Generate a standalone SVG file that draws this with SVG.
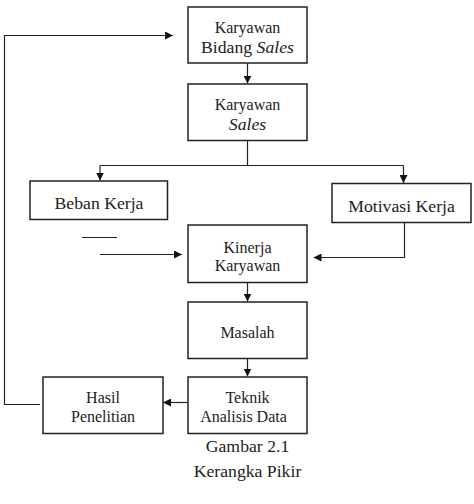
<svg xmlns="http://www.w3.org/2000/svg" width="474" height="504" viewBox="0 0 474 504">
<style>
.box{fill:#fff;stroke:#222;stroke-width:1.5}
.ln{fill:none;stroke:#222;stroke-width:1.2}
text{font-family:'Liberation Serif',serif;font-size:16px;fill:#222;text-anchor:middle}
.tb{font-size:17.7px}
.i{font-style:italic}
</style>
<defs>
<marker id="ah" viewBox="0 0 10 10" refX="10" refY="5" markerWidth="8" markerHeight="8" markerUnits="userSpaceOnUse" orient="auto">
<path d="M0,0 L10,5 L0,10 z" fill="#111"/>
</marker>
</defs>
<rect width="474" height="504" fill="#fff"/>
<g id="connectors">
<path class="ln" d="M247.5,63.5 V83.5" marker-end="url(#ah)"/>
<path class="ln" d="M247.5,140.5 V165.5"/>
<path class="ln" d="M100,165.5 H403.5"/>
<path class="ln" d="M100,165.5 V180.5" marker-end="url(#ah)"/>
<path class="ln" d="M403.5,165.5 V183" marker-end="url(#ah)"/>
<path class="ln" d="M82,237.5 H117"/>
<path class="ln" d="M100,254.5 H182" marker-end="url(#ah)"/>
<path class="ln" d="M404.5,222.5 V257.5 H313.5" marker-end="url(#ah)"/>
<path class="ln" d="M247.5,282.5 V301.5" marker-end="url(#ah)"/>
<path class="ln" d="M247.5,358.5 V376.5" marker-end="url(#ah)"/>
<path class="ln" d="M187,402.5 H163" marker-end="url(#ah)"/>
<path class="ln" d="M40,404.5 H4.5 V35.5 H173" marker-end="url(#ah)"/>
</g>
<g id="n1">
<rect class="box" x="188" y="7" width="119" height="56"/>
<text x="247.5" y="33">Karyawan</text>
<text class="tb" x="247.5" y="53">Bidang <tspan class="i">Sales</tspan></text>
</g>
<g id="n2">
<rect class="box" x="188" y="84" width="119" height="56.5"/>
<text x="247.5" y="110">Karyawan</text>
<text class="i tb" x="247.5" y="130">Sales</text>
</g>
<g id="n3">
<rect class="box" x="30" y="181" width="137.5" height="38.5"/>
<text class="tb" x="99" y="209">Beban Kerja</text>
</g>
<g id="n4">
<rect class="box" x="332" y="183.5" width="139" height="39"/>
<text class="tb" x="401.5" y="211.5">Motivasi Kerja</text>
</g>
<g id="n5">
<rect class="box" x="188" y="225" width="119" height="57.5"/>
<text x="247.5" y="252.5">Kinerja</text>
<text x="247.5" y="271">Karyawan</text>
</g>
<g id="n6">
<rect class="box" x="188" y="302" width="119" height="56.5"/>
<text x="247.5" y="338">Masalah</text>
</g>
<g id="n7">
<rect class="box" x="188" y="377" width="119" height="56.5"/>
<text x="247.5" y="403">Teknik</text>
<text x="243.5" y="422">Analisis Data</text>
</g>
<g id="n8">
<rect class="box" x="43" y="377" width="120" height="56.5"/>
<text x="103" y="403">Hasil</text>
<text x="103" y="422">Penelitian</text>
</g>
<g id="caption">
<text class="tb" x="247.5" y="451.5">Gambar 2.1</text>
<text class="tb" x="247.5" y="476.5">Kerangka Pikir</text>
</g>
</svg>
